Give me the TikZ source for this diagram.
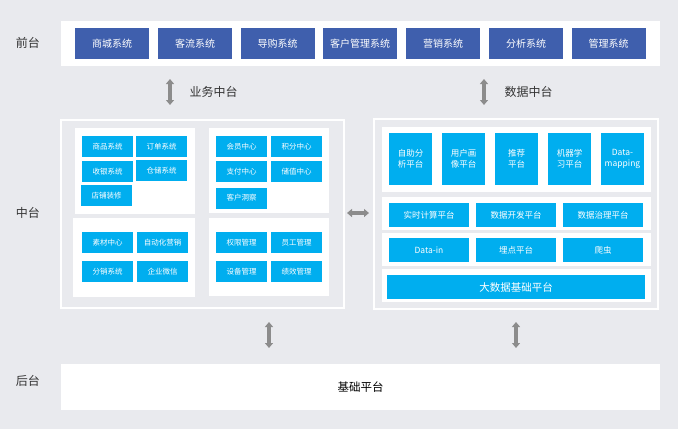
\documentclass[tikz,border=0pt]{standalone}
\usepackage{fontspec}
\setmainfont{Noto Sans CJK SC}
\usetikzlibrary{arrows.meta}
\definecolor{bggray}{HTML}{E9EAEE}
\definecolor{topblue}{HTML}{3F5FAD}
\definecolor{cyanbox}{HTML}{00AEEF}
\definecolor{arrgray}{HTML}{8C8C8C}
\definecolor{labtxt}{HTML}{333333}
\tikzset{
  band/.style={fill=white, anchor=north west, inner sep=0pt},
  frame/.style={fill=bggray, draw=white, line width=1.5pt, anchor=north west, inner sep=0pt},
  topbox/.style={fill=topblue, text=white, minimum width=74pt, minimum height=31pt, inner sep=0pt, font=\fontsize{10}{12}\selectfont},
  cbox/.style={fill=cyanbox, text=white, minimum width=51pt, minimum height=21pt, inner sep=0pt, font=\fontsize{7.5}{9}\selectfont},
  dbox/.style={fill=cyanbox, text=white, inner sep=0pt, align=center, font=\fontsize{8.5}{11}\selectfont},
  lab/.style={text=labtxt, font=\fontsize{12}{14}\selectfont},
  dblarr/.style={arrgray, line width=3.6pt, {Triangle[width=8pt,length=5pt]}-{Triangle[width=8pt,length=5pt]}}
}
\begin{document}
\begin{tikzpicture}[x=1pt, y=-1pt]
  \useasboundingbox (0,0) rectangle (678,429);
  \fill[bggray] (0,0) rectangle (678,429);
  % row labels
  \node[lab] (lfront) at (28,43) {前台};
  \node[lab] (lmid) at (28,213) {中台};
  \node[lab] (lback) at (28,381) {后台};
  % front systems
  \node[band, minimum width=599pt, minimum height=45pt] (front) at (61,21) {};
  \foreach \x/\t [count=\i] in {112/商城系统, 195/客流系统, 277.5/导购系统, 360/客户管理系统, 443/营销系统, 526/分析系统, 608.5/管理系统} {\node[topbox] (fs\i) at (\x,43.5) {\t};}
  % business middle platform
  \node[frame, minimum width=283pt, minimum height=188pt] (bizframe) at (60,119) {};
  \node[band, minimum width=120pt, minimum height=86pt] (bpa) at (75,128) {};
  \node[band, minimum width=120pt, minimum height=85pt] (bpb) at (209,128) {};
  \node[band, minimum width=122pt, minimum height=79pt] (bpc) at (73,218) {};
  \node[band, minimum width=120pt, minimum height=78pt] (bpd) at (209,218) {};
  \foreach \x/\y/\t [count=\i] in {107.5/146.5/商品系统, 161.5/146.5/订单系统, 107.5/171.5/收银系统, 161.5/170.5/仓储系统, 106.5/195.5/店铺装修,
    241.5/146.5/会员中心, 296.5/146.5/积分中心, 241.5/171.5/支付中心, 296.5/171.5/储值中心, 241.5/198/客户洞察,
    107.5/242.5/素材中心, 162.5/242.5/自动化营销, 107.5/271.5/分销系统, 162.5/271.5/企业微信,
    241.5/242.5/权限管理, 296.5/242.5/员工管理, 241.5/271.5/设备管理, 296.5/271.5/绩效管理} {\node[cbox] (bs\i) at (\x,\y) {\t};}
  % data middle platform
  \node[frame, minimum width=284pt, minimum height=190pt] (dataframe) at (373,118) {};
  \node[band, minimum width=269pt, minimum height=65pt] (dpa) at (382,127) {};
  \node[band, minimum width=269pt, minimum height=33pt] (dpb) at (382,197) {};
  \node[band, minimum width=269pt, minimum height=33pt] (dpc) at (382,233) {};
  \node[band, minimum width=269pt, minimum height=33pt] (dpd) at (382,269) {};
  \foreach \x/\t [count=\i] in {410.5/{自助分\\析平台}, 463.5/{用户画\\像平台}, 516.5/{推荐\\平台}, 569.5/{机器学\\习平台}, 622.5/{Data-\\mapping}} {\node[dbox, minimum width=43pt, minimum height=52pt] (dt\i) at (\x,159) {\t};}
  \foreach \x/\t [count=\i] in {429/实时计算平台, 516/数据开发平台, 603/数据治理平台} {\node[dbox, minimum width=80pt, minimum height=24pt] (dm\i) at (\x,215) {\t};}
  \foreach \x/\t [count=\i] in {429/Data-in, 516/埋点平台, 603/爬虫} {\node[dbox, minimum width=80pt, minimum height=24pt] (dl\i) at (\x,250) {\t};}
  \node[dbox, minimum width=258pt, minimum height=24pt, font=\fontsize{10.5}{12}\selectfont] (bigdata) at (516,287) {大数据基础平台};
  % back platform
  \node[band, minimum width=599pt, minimum height=46pt] (back) at (61,364) {};
  \node[text=black, font=\fontsize{11.5}{13}\selectfont] (basetxt) at (back.center) {基础平台};
  % connectors
  \coordinate (bizup) at (170,79); \coordinate (bizdn) at (170,105);
  \coordinate (dataup) at (484,79); \coordinate (datadn) at (484,105);
  \node[lab, anchor=west] (lbiz) at (186,92) {业务中台};
  \node[lab, anchor=west] (ldata) at (501,92) {数据中台};
  \draw[dblarr] (bizup) -- (bizdn);
  \draw[dblarr] (dataup) -- (datadn);
  \coordinate (midl) at (347,213); \coordinate (midr) at (369,213);
  \draw[dblarr] (midl) -- (midr);
  \coordinate (bbup) at (269,322); \coordinate (bbdn) at (269,348);
  \coordinate (dbup) at (516,322); \coordinate (dbdn) at (516,348);
  \draw[dblarr] (bbup) -- (bbdn);
  \draw[dblarr] (dbup) -- (dbdn);
\end{tikzpicture}
\end{document}
